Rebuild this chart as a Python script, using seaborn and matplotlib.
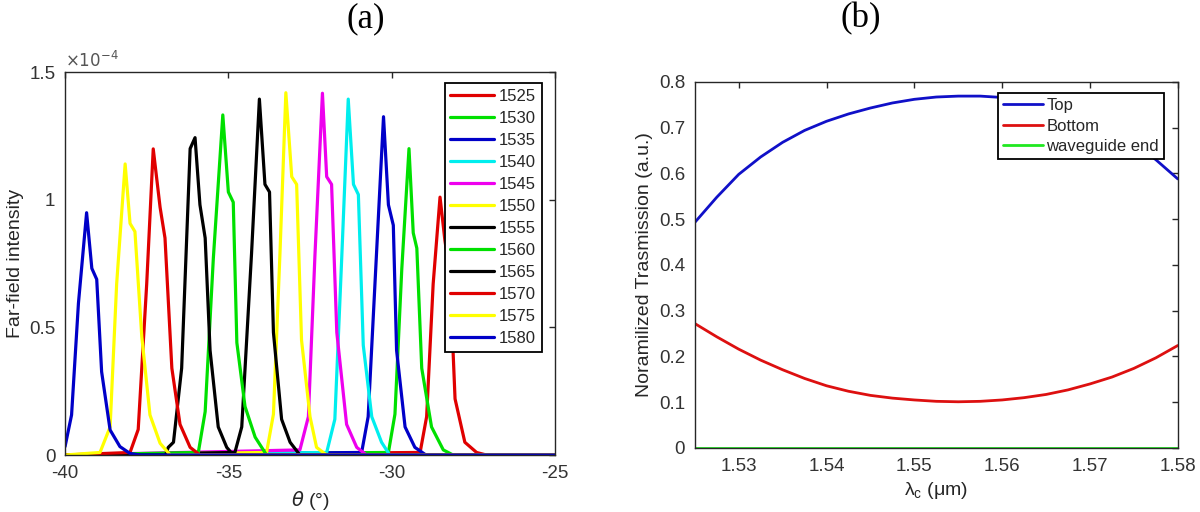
import pandas as pd
import matplotlib
matplotlib.use("Agg")
import matplotlib.pyplot as plt
from matplotlib.ticker import FuncFormatter
import seaborn as sns

# ---- (a) far-field intensity (values in units of 1e-4) ----
wavelengths = ["1525", "1530", "1535", "1540", "1545", "1550",
               "1555", "1560", "1565", "1570", "1575", "1580"]
line_colors = ["#e00000", "#00e000", "#0000c8", "#00eeee", "#ee00ee", "#ffff00",
               "#000000", "#00e000", "#000000", "#e00000", "#ffff00", "#0000c8"]

theta_1525 = [-40, -29.13, -28.93, -28.73, -28.52, -28.37, -28.22, -28.06, -27.76, -27.40, -27.10, -25]
int_1525 = [0, 0.01, 0.15, 0.67, 1.01, 0.84, 0.71, 0.22, 0.05, 0.01, 0, 0]
theta_1530 = [-40, -30.10, -29.90, -29.69, -29.47, -29.34, -29.23, -29.08, -28.78, -28.42, -28.12, -25]
int_1530 = [0, 0.01, 0.16, 0.73, 1.20, 0.87, 0.81, 0.34, 0.11, 0.02, 0, 0]
theta_1535 = [-40, -30.92, -30.72, -30.46, -30.25, -30.10, -29.95, -29.85, -29.59, -29.29, -28.95, -25]
int_1535 = [0, 0.01, 0.15, 0.80, 1.325, 0.98, 0.90, 0.41, 0.11, 0.03, 0, 0]
theta_1540 = [-40, -31.99, -31.74, -31.53, -31.33, -31.17, -31.02, -30.87, -30.61, -30.31, -30.06, -25]
int_1540 = [0, 0.01, 0.14, 0.77, 1.394, 1.06, 1.02, 0.43, 0.15, 0.05, 0, 0]
theta_1545 = [-40, -32.81, -32.55, -32.35, -32.12, -31.99, -31.84, -31.68, -31.38, -31.07, -30.77, -25]
int_1545 = [0, 0.02, 0.15, 0.78, 1.417, 1.09, 1.06, 0.48, 0.12, 0.03, 0, 0]
theta_1550 = [-40, -33.83, -33.62, -33.42, -33.24, -33.06, -32.91, -32.76, -32.50, -32.30, -31.99, -25]
int_1550 = [0, 0.01, 0.16, 0.79, 1.419, 1.09, 1.06, 0.45, 0.15, 0.03, 0, 0]
theta_1555 = [-40, -34.80, -34.59, -34.29, -34.05, -33.88, -33.74, -33.62, -33.37, -33.11, -32.81, -25]
int_1555 = [0, 0.01, 0.11, 0.79, 1.394, 1.06, 1.03, 0.48, 0.14, 0.05, 0, 0]
theta_1560 = [-40, -35.92, -35.71, -35.46, -35.17, -35.00, -34.85, -34.74, -34.49, -34.18, -33.83, -25]
int_1560 = [0, 0.01, 0.17, 0.77, 1.332, 1.03, 0.99, 0.44, 0.19, 0.07, 0, 0]
theta_1565 = [-40, -36.92, -36.84, -36.68, -36.43, -36.17, -36.02, -35.87, -35.71, -35.56, -35.31, -35.05, -34.85, -25]
int_1565 = [0, 0, 0.03, 0.05, 0.34, 1.20, 1.243, 0.98, 0.85, 0.41, 0.11, 0.03, 0, 0]
theta_1570 = [-40, -38.01, -37.76, -37.50, -37.30, -37.09, -36.94, -36.73, -36.48, -36.17, -35.87, -25]
int_1570 = [0, 0.01, 0.10, 0.67, 1.199, 0.97, 0.85, 0.34, 0.12, 0.03, 0, 0]
theta_1575 = [-40, -38.93, -38.62, -38.42, -38.16, -38.01, -37.86, -37.65, -37.40, -37.09, -36.78, -25]
int_1575 = [0, 0.01, 0.11, 0.67, 1.14, 0.907, 0.875, 0.463, 0.157, 0.046, 0, 0]
theta_1580 = [-40, -39.80, -39.59, -39.34, -39.18, -39.03, -38.88, -38.62, -38.32, -38.01, -37.70, -25]
int_1580 = [0.033, 0.157, 0.594, 0.949, 0.731, 0.688, 0.326, 0.098, 0.033, 0.006, 0, 0]

# ---- (b) normalized transmission ----
lambda_c = [1.5250, 1.5275, 1.5300, 1.5325, 1.5350, 1.5375, 1.5400, 1.5425, 1.5450, 1.5475,
            1.5500, 1.5525, 1.5550, 1.5575, 1.5600, 1.5625, 1.5650, 1.5675, 1.5700, 1.5725,
            1.5750, 1.5775, 1.5800]
top = [0.493, 0.548, 0.598, 0.636, 0.668, 0.694, 0.714, 0.730, 0.743, 0.754,
       0.762, 0.767, 0.769, 0.769, 0.766, 0.760, 0.750, 0.736, 0.718, 0.695,
       0.666, 0.630, 0.588]
bottom = [0.272, 0.243, 0.216, 0.192, 0.171, 0.152, 0.136, 0.124, 0.115, 0.109,
          0.105, 0.102, 0.101, 0.102, 0.105, 0.110, 0.117, 0.127, 0.140, 0.155,
          0.174, 0.197, 0.224]
waveguide_end = [0, 0, 0, 0, 0, 0, 0, 0, 0, 0, 0, 0, 0, 0, 0, 0, 0, 0, 0, 0, 0, 0, 0]
series_b = ["Top", "Bottom", "waveguide end"]
colors_b = ["#1010c8", "#dd1010", "#20e820"]

# build long tables for seaborn
thetas = [theta_1525, theta_1530, theta_1535, theta_1540, theta_1545, theta_1550,
          theta_1555, theta_1560, theta_1565, theta_1570, theta_1575, theta_1580]
ints = [int_1525, int_1530, int_1535, int_1540, int_1545, int_1550,
        int_1555, int_1560, int_1565, int_1570, int_1575, int_1580]
df_a = pd.concat([pd.DataFrame({"theta": t, "intensity": v, "wl": w})
                  for w, t, v in zip(wavelengths, thetas, ints)], ignore_index=True)
df_b = pd.concat([pd.DataFrame({"lam": lambda_c, "T": v, "series": s})
                  for s, v in zip(series_b, [top, bottom, waveguide_end])], ignore_index=True)

sns.set_style("white")
plt.rcParams["font.family"] = ["Liberation Sans", "DejaVu Sans"]
plt.rcParams["axes.unicode_minus"] = False
plt.rcParams["axes.edgecolor"] = "#262626"
plt.rcParams["axes.linewidth"] = 1.0
plt.rcParams["text.color"] = "#262626"
plt.rcParams["axes.labelcolor"] = "#262626"

fig = plt.figure(figsize=(12, 5.12), dpi=100)
ax1 = fig.add_axes([0.0542, 0.1113, 0.4083, 0.748])
ax2 = fig.add_axes([0.579, 0.125, 0.4025, 0.715])

fmt = FuncFormatter(lambda v, p: "%g" % v)

# panel (a)
sns.lineplot(data=df_a, x="theta", y="intensity", hue="wl", hue_order=wavelengths,
             palette=dict(zip(wavelengths, line_colors)), estimator=None, sort=False,
             linewidth=2.3, ax=ax1)
ax1.set_xlim(-40, -25)
ax1.set_ylim(0, 1.5)
ax1.set_xticks([-40, -35, -30, -25])
ax1.set_yticks([0, 0.5, 1, 1.5])
ax1.xaxis.set_major_formatter(fmt)
ax1.yaxis.set_major_formatter(fmt)
ax1.set_xlabel(r"$\theta$ (°)", fontsize=14, labelpad=5)
ax1.set_ylabel("Far-field intensity", fontsize=14, labelpad=4)
ax1.text(0.0, 1.005, r"$\times10^{-4}$", transform=ax1.transAxes, fontsize=12,
         color="#555555", ha="left", va="bottom")
sns.move_legend(ax1, "upper right", bbox_to_anchor=(0.973, 0.971), title=None,
                frameon=True, fancybox=False, fontsize=12, handlelength=2.6,
                handletextpad=0.3, labelspacing=0.42, borderpad=0.35,
                borderaxespad=0, edgecolor="black", framealpha=1)

# panel (b)
sns.lineplot(data=df_b, x="lam", y="T", hue="series", hue_order=series_b,
             palette=dict(zip(series_b, colors_b)), estimator=None, sort=False,
             linewidth=2.0, ax=ax2)
ax2.set_xlim(1.525, 1.58)
ax2.set_ylim(0, 0.8)
ax2.set_xticks([1.53, 1.54, 1.55, 1.56, 1.57, 1.58])
ax2.set_yticks([0, 0.1, 0.2, 0.3, 0.4, 0.5, 0.6, 0.7, 0.8])
ax2.xaxis.set_major_formatter(fmt)
ax2.yaxis.set_major_formatter(fmt)
ax2.set_xlabel(r"$\mathregular{\lambda_c}$ (μm)", fontsize=14, labelpad=4)
ax2.set_ylabel("Noramilized Trasmission (a.u.)", fontsize=14, labelpad=4)
sns.move_legend(ax2, "upper right", bbox_to_anchor=(0.971, 0.969), title=None,
                frameon=True, fancybox=False, fontsize=12, handlelength=2.4,
                handletextpad=0.2, labelspacing=0.32, borderpad=0.3,
                borderaxespad=0, edgecolor="black", framealpha=1)

for ax in (ax1, ax2):
    ax.tick_params(direction="in", top=True, right=True, length=4, width=1.0,
                   labelsize=13.5, pad=7, color="#262626", labelcolor="#333333")
    for sp in ax.spines.values():
        sp.set_visible(True)
    ax.get_legend().get_frame().set_linewidth(1.3)

fig.text(0.305, 0.963, "(a)", fontsize=25, family="Liberation Serif",
         color="black", ha="center", va="center")
fig.text(0.717, 0.963, "(b)", fontsize=25, family="Liberation Serif",
         color="black", ha="center", va="center")

fig.savefig("out.png", dpi=100)
